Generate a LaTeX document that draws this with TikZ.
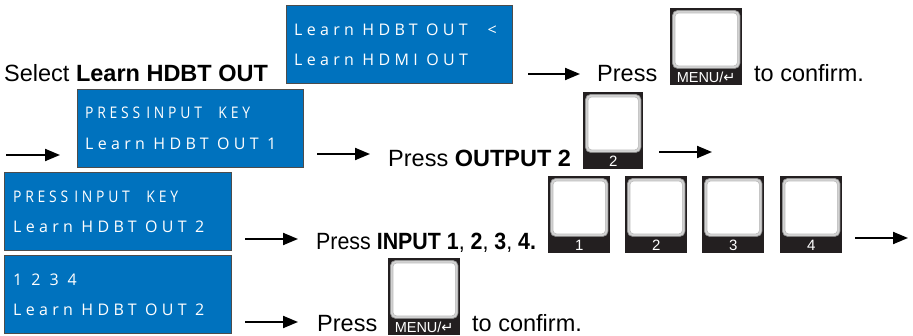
\documentclass[tikz,border=0pt]{standalone}
\usepackage{fontspec}
\usepackage{graphicx}
\setmainfont{Liberation Sans}
\newfontfamily\lcdfont[LetterSpace=27]{Open Sans}
\newfontfamily\symfont{DejaVu Sans}
\usetikzlibrary{arrows.meta,calc}
\definecolor{lcdblue}{RGB}{0,114,190}
\definecolor{keyblack}{RGB}{35,31,32}
\tikzset{
  lcd/.style={draw=black!70, line width=0.8pt, fill=lcdblue, anchor=north west, inner sep=0pt,
              minimum width=226pt, minimum height=78pt},
  lcdtext/.style={anchor=base west, inner sep=0pt, text=white, font=\lcdfont\fontsize{16}{19}\selectfont},
  txt/.style={anchor=base west, inner sep=0pt, font=\fontsize{23.5}{28}\selectfont},
  arr/.style={line width=2pt, -{Triangle[length=15pt,width=12pt]}},
  keyframe/.style={fill=keyblack, draw=none, anchor=north west, inner sep=0pt},
  keyring/.style={fill=gray!35, draw=gray!85, line width=0.7pt, rounded corners=5pt},
  keyface/.style={fill=white, draw=gray!55, line width=0.6pt, rounded corners=3.5pt},
  keylabel/.style={text=white, inner sep=0pt, font=\fontsize{15}{17}\selectfont},
  menulabel/.style={text=white, inner sep=0pt, font=\fontsize{14.5}{16}\selectfont},
}
\newcommand{\keybtn}[7]{% #1 name, #2 x, #3 y, #4 w, #5 h, #6 label, #7 label style
  \node[keyframe, minimum width=#4pt, minimum height=#5pt] (#1) at (#2,#3) {};
  \path[keyring] ($(#1.north west)+(2.5,2.5)$) rectangle ($(#1.south east)+(-2.5,-17)$);
  \path[keyface] ($(#1.north west)+(5,5)$) rectangle ($(#1.south east)+(-5,-19.5)$);
  \node[#7] (#1lab) at ($(#1.south)+(0,-8)$) {#6};
}
\newcommand{\presskey}{\scalebox{0.87}[1]{PRESS\hspace{7pt}INPUT\hspace{19pt}KEY}}
\begin{document}
\begin{tikzpicture}[x=1pt,y=-1pt]
\useasboundingbox (0,0) rectangle (913,336);

% ---------- Row 1 ----------
\node[txt] (sel) at (4,82) {Select \textbf{Learn HDBT OUT}};
\node[lcd] (lcd1) at (286,5) {};
\node[lcdtext] (lcd1a) at ($(lcd1.north west)+(8,31)$) {Learn HDBT OUT\hspace{20pt}<};
\node[lcdtext] (lcd1b) at ($(lcd1.north west)+(8,61)$) {Learn HDMI OUT};
\coordinate (a1s) at (528,74);
\coordinate (a1e) at (580,74);
\draw[arr] (a1s) -- (a1e);
\node[txt] (p1) at (597,82) {Press};
\keybtn{menu1}{670}{8}{72}{77}{MENU/{\symfont ↵}}{menulabel}
\node[txt] (c1) at (754,82) {to confirm.};

% ---------- Row 2 ----------
\coordinate (a2s) at (6,155);
\coordinate (a2e) at (60,155);
\draw[arr] (a2s) -- (a2e);
\node[lcd] (lcd2) at (77,89) {};
\node[lcdtext] (lcd2a) at ($(lcd2.north west)+(8,30)$) {\presskey};
\node[lcdtext] (lcd2b) at ($(lcd2.north west)+(8,61)$) {Learn HDBT OUT 1};
\coordinate (a3s) at (317,154);
\coordinate (a3e) at (370,154);
\draw[arr] (a3s) -- (a3e);
\node[txt] (p2) at (388,167) {Press \textbf{OUTPUT 2}};
\keybtn{out2}{583}{92}{60}{77}{2}{keylabel}
\coordinate (a4s) at (659,152);
\coordinate (a4e) at (712,152);
\draw[arr] (a4s) -- (a4e);

% ---------- Row 3 ----------
\node[lcd, minimum width=227pt] (lcd3) at (4,172) {};
\node[lcdtext] (lcd3a) at ($(lcd3.north west)+(9,31)$) {\presskey};
\node[lcdtext] (lcd3b) at ($(lcd3.north west)+(9,61)$) {Learn HDBT OUT 2};
\coordinate (a5s) at (245,239);
\coordinate (a5e) at (298,239);
\draw[arr] (a5s) -- (a5e);
\node[txt] (p3) at (316,250) {\scalebox{0.91}[1]{Press \textbf{INPUT 1}, \textbf{2}, \textbf{3}, \textbf{4.}}};
\keybtn{in1}{548}{176}{62}{77}{1}{keylabel}
\keybtn{in2}{625}{176}{62}{77}{2}{keylabel}
\keybtn{in3}{702}{176}{62}{77}{3}{keylabel}
\keybtn{in4}{780}{176}{62}{77}{4}{keylabel}
\coordinate (a6s) at (855,238);
\coordinate (a6e) at (908,238);
\draw[arr] (a6s) -- (a6e);

% ---------- Row 4 ----------
\node[lcd, minimum width=227pt] (lcd4) at (4,255) {};
\node[lcdtext] (lcd4a) at ($(lcd4.north west)+(9,31)$) {1\hspace{9pt}2\hspace{9pt}3\hspace{9pt}4};
\node[lcdtext] (lcd4b) at ($(lcd4.north west)+(9,61)$) {Learn HDBT OUT 2};
\coordinate (a7s) at (245,322);
\coordinate (a7e) at (298,322);
\draw[arr] (a7s) -- (a7e);
\node[txt] (p4) at (317,332) {Press};
\keybtn{menu2}{388}{258}{72}{77}{MENU/{\symfont ↵}}{menulabel}
\node[txt] (c4) at (472,332) {to confirm.};
\end{tikzpicture}
\end{document}
